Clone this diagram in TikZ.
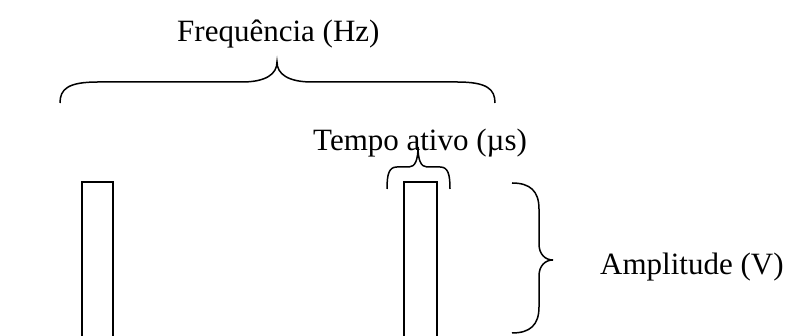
\documentclass[tikz,border=0pt]{standalone}
\usepackage{fontspec}
\setmainfont{Liberation Serif}
\begin{document}
\begin{tikzpicture}[x=1pt,y=1pt,
  lbl/.style={anchor=base west,inner sep=0pt,font=\fontsize{31}{37}\selectfont},
  brc/.style={draw=black,line width=1.5pt},
  pulse/.style={draw=black,line width=1.8pt}]
\useasboundingbox (0,0) rectangle (790,336);
\begin{scope}
\clip (0,0) rectangle (790,336);
% labels
\node[lbl] (freq) at (177,294) {Frequência (Hz)};
\node[lbl] (tempo) at (313,185) {Tempo ativo (µs)};
\node[lbl] (amp) at (600,61) {Amplitude (V)};
% pulses (open at the bottom)
\coordinate (p1) at (82,154);
\coordinate (p2) at (404,154);
\draw[pulse] (p1) ++(0,-170) -- ++(0,170) -- ++(31,0) -- ++(0,-170);
\draw[pulse] (p2) ++(0,-170) -- ++(0,170) -- ++(33,0) -- ++(0,-170);
% period brace over both pulses
\coordinate (fa) at (60,233);
\coordinate (fb) at (495,233);
\coordinate (ft) at (277,274);
\draw[brc] (fa) .. controls (60,247) and (68,254) .. (98,254) -- (242,254)
  .. controls (266,254) and (277,262) .. (ft)
  .. controls (277,262) and (288,254) .. (312,254) -- (457,254)
  .. controls (487,254) and (495,247) .. (fb);
% pulse-width brace
\coordinate (ta) at (387,147);
\coordinate (tb) at (450,147);
\coordinate (tt) at (418,189);
\draw[brc] (ta) .. controls (387,162) and (389,169) .. (397,169) -- (409,169)
  .. controls (415,169) and (418,176) .. (tt)
  .. controls (418,176) and (421,169) .. (427,169) -- (440,169)
  .. controls (448,169) and (450,162) .. (tb);
% amplitude brace
\coordinate (aa) at (512,153);
\coordinate (ab) at (512,3);
\coordinate (at) at (553,76);
\draw[brc] (aa) .. controls (530,153) and (539,145) .. (539,127) -- (539,92)
  .. controls (539,82) and (545,76) .. (at)
  .. controls (545,76) and (539,70) .. (539,60) -- (539,29)
  .. controls (539,11) and (530,3) .. (ab);
\end{scope}
\end{tikzpicture}
\end{document}
